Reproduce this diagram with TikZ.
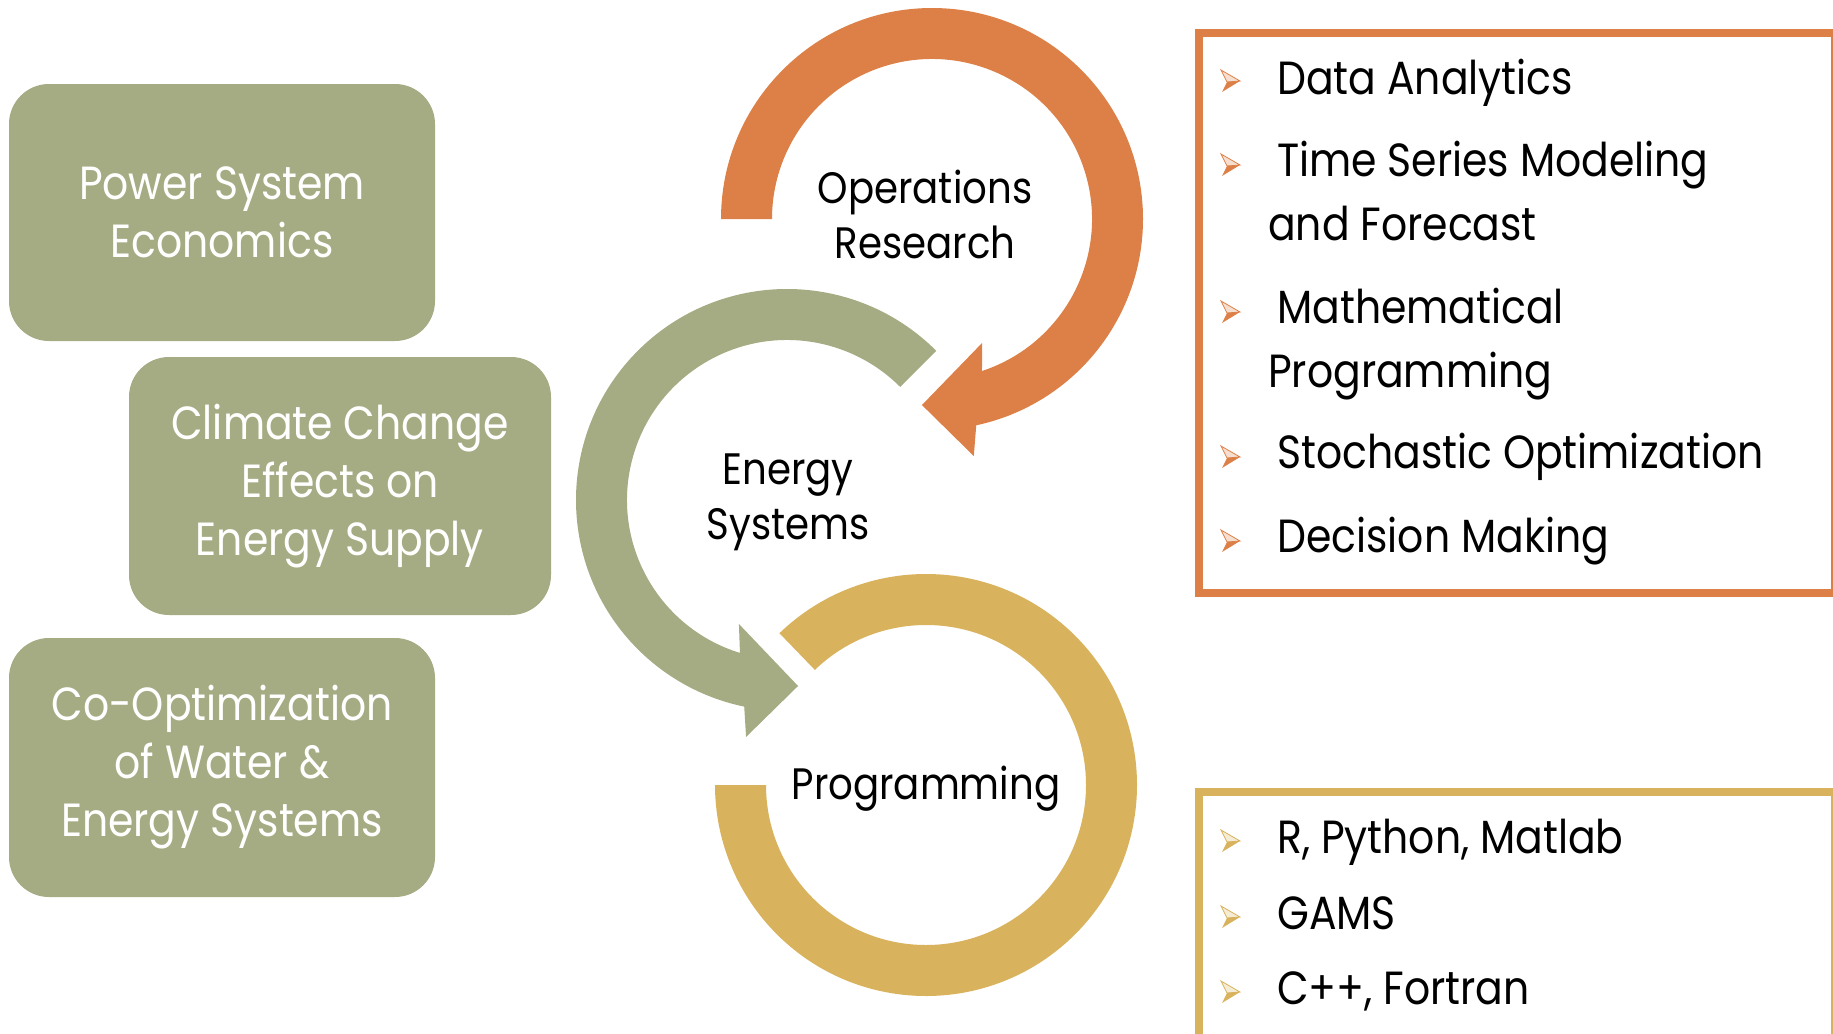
\documentclass[tikz,border=0pt]{standalone}
\usepackage{fontspec}
\setmainfont{Poppins}[FakeStretch=0.88]
\usetikzlibrary{calc}

\definecolor{oriorange}{RGB}{221,128,71}
\definecolor{orisage}{RGB}{165,171,130}
\definecolor{origold}{RGB}{216,178,92}

\tikzset{
  topicbox/.style={fill=orisage, rounded corners=40pt, text=white, align=center,
    minimum width=426pt, minimum height=257pt, inner sep=0pt, font=\fontsize{46.5}{58}\selectfont},
  ringlabel/.style={align=center, inner sep=0pt, font=\fontsize{44}{55}\selectfont},
  itemlabel/.style={anchor=base west, align=left, inner sep=0pt, font=\fontsize{46.5}{64}\selectfont},
  listframe/.style={line width=8pt},
}

\begin{document}
\begin{tikzpicture}[x=1pt,y=1pt,yscale=-1]
\useasboundingbox (0,0) rectangle (1833,1033);
\clip (0,0) rectangle (1833,1033);

%Ring centres
\coordinate (orc) at (932,219);
\coordinate (enc) at (787,500);
\coordinate (prc) at (926,785);

%Curve Arrow: operations research
\fill[oriorange] ($(orc)+(180:211)$) arc[start angle=180, end angle=437.9, radius=211]
  -- ($(orc)+(80:240.7)$) -- ($(orc)+(93.1:186.3)$) -- ($(orc)+(68:133.7)$)
  -- ($(orc)+(71.8:160)$) arc[start angle=71.8, end angle=-180, radius=160] -- cycle;
%Curve Arrow: energy systems
\fill[orisage] ($(enc)+(315:211)$) arc[start angle=315, end angle=101.7, radius=211]
  -- ($(enc)+(99.8:240.5)$) -- ($(enc)+(86.6:186.3)$) -- ($(enc)+(111.2:133)$)
  -- ($(enc)+(107.1:160)$) arc[start angle=107.1, end angle=315, radius=160] -- cycle;
%Shape: Arc programming
\fill[origold] ($(prc)+(226:211)$) arc[start angle=226, end angle=540, radius=211]
  -- ($(prc)+(180:160)$) arc[start angle=180, end angle=-134, radius=160] -- cycle;

\node[ringlabel] (oplabel) at (925,214) {Operations\\Research};
\node[ringlabel] (enlabel) at (788,502) {Energy\\Systems};
\node[ringlabel] (prlabel) at (926,789) {Programming};

%Rounded boxes
\node[topicbox] (econ) at (222,212.5) {Power System\\Economics};
\node[topicbox, minimum width=422pt, minimum height=258pt] (climate) at (340,486) {Climate Change\\Effects on\\Energy Supply};
\node[topicbox, minimum height=259pt] (water) at (222,767.5) {Co-Optimization\\of Water \&\\Energy Systems};

%Frames
\draw[listframe, draw=oriorange] (1199,33) rectangle (1835,593);
\draw[listframe, draw=origold] (1199,792) rectangle (1835,1080);

%Bullets
\foreach \by/\bc in {81/oriorange,165/oriorange,312/oriorange,457/oriorange,541/oriorange,841/origold,917/origold,992/origold} {
  \filldraw[draw=\bc, fill=\bc!25, line width=0.8pt] (1240,\by) -- (1221,\by-11) -- (1227,\by+1) -- cycle;
  \fill[\bc] (1240,\by) -- (1227,\by+1) -- (1222,\by+11) -- cycle;
}

%List texts (multi-line nodes sit on their last baseline)
\node[itemlabel] (data) at (1277,94) {Data Analytics};
\node[itemlabel] (series) at (1268,240) {\hspace*{9pt}Time Series Modeling\\and Forecast};
\node[itemlabel] (math) at (1268,387) {\hspace*{9pt}Mathematical\\Programming};
\node[itemlabel] (stoch) at (1277,468) {Stochastic Optimization};
\node[itemlabel] (decide) at (1277,552) {Decision Making};
\node[itemlabel] (langs) at (1277,853) {R, Python, Matlab};
\node[itemlabel] (gams) at (1277,929) {GAMS};
\node[itemlabel] (cpp) at (1277,1004) {C++, Fortran};
\end{tikzpicture}
\end{document}
